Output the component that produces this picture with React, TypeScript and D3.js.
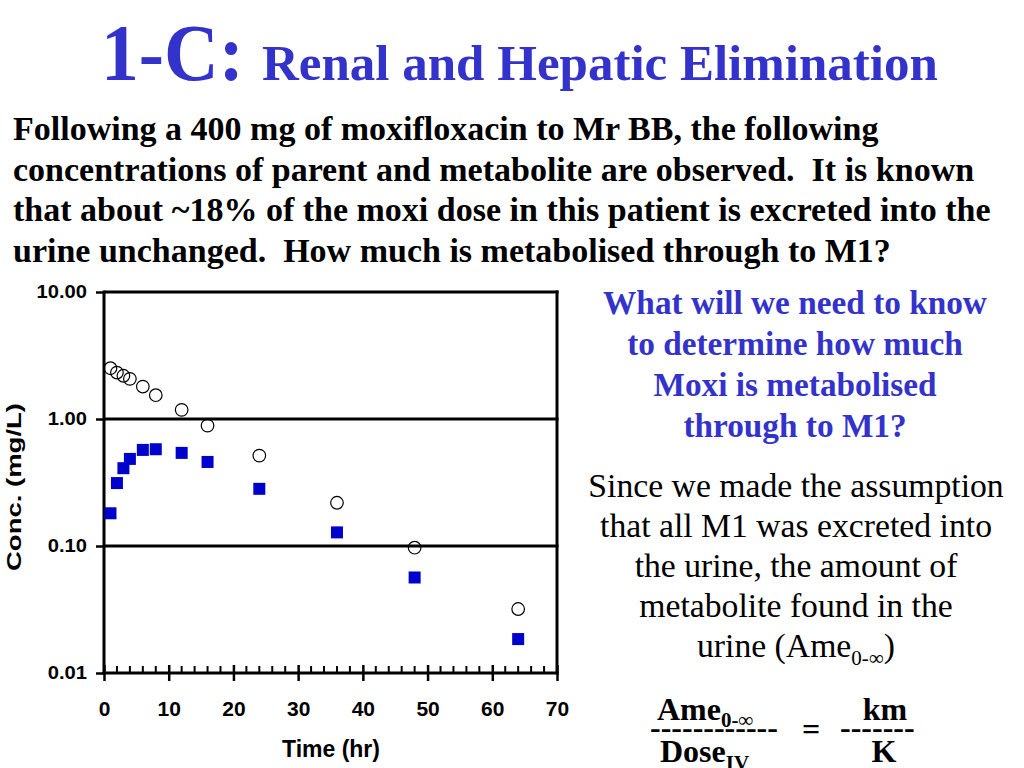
import React, { useEffect, useRef } from 'react';
import * as d3 from 'd3';

// ---- data ----
const times = [1, 2, 3, 4, 6, 8, 12, 16, 24, 36, 48, 64];
const parentConc = [2.51, 2.32, 2.19, 2.07, 1.8, 1.54, 1.18, 0.887, 0.515, 0.219, 0.097, 0.0319];
const metaboliteConc = [0.181, 0.313, 0.41, 0.485, 0.571, 0.578, 0.541, 0.459, 0.282, 0.128, 0.0565, 0.0185];
const yTickValues = [0.01, 0.1, 1, 10];
const yTickLabels = ['0.01', '0.10', '1.00', '10.00'];
const xMajorTicks = [0, 10, 20, 30, 40, 50, 60, 70];
const xMinorTicks = [2, 4, 6, 8, 12, 14, 16, 18, 22, 24, 26, 28, 32, 34, 36, 38, 42, 44, 46, 48, 52, 54, 56, 58, 62, 64, 66, 68];
const gridValues = [0.1, 1, 10];

const titleMain = '1-C:';
const titleSub = 'Renal and Hepatic Elimination';
const paragraph = [
  'Following a 400 mg of moxifloxacin to Mr BB, the following',
  'concentrations of parent and metabolite are observed.  It is known',
  'that about ~18% of the moxi dose in this patient is excreted into the',
  'urine unchanged.  How much is metabolised through to M1?',
];
const blueLines = ['What will we need to know', 'to determine how much', 'Moxi is metabolised', 'through to M1?'];
const blackLines = ['Since we made the assumption', 'that all M1 was excreted into', 'the urine, the amount of', 'metabolite found in the'];

const SERIF = '"Liberation Serif", "Times New Roman", serif';
const SANS = '"Liberation Sans", Arial, sans-serif';
const BLUE = '#3333CC';

const X0 = 104, X1 = 557, Y0 = 673, Y1 = 292;

export default function App() {
  const xAxisRef = useRef<SVGGElement>(null);
  const yAxisRef = useRef<SVGGElement>(null);

  const x = d3.scaleLinear().domain([0, 70]).range([X0, X1]);
  const y = d3.scaleLog().domain([0.01, 10]).range([Y0, Y1]);

  useEffect(() => {
    if (xAxisRef.current) {
      const g = d3.select(xAxisRef.current);
      g.selectAll('*').remove();
      g.call(
        d3.axisBottom(x).tickValues(xMajorTicks).tickFormat(d3.format('d')).tickSizeInner(8).tickSizeOuter(0).tickPadding(20)
      );
      g.select('.domain').attr('stroke', '#000').attr('stroke-width', 3).attr('d', `M${X0 - 1.5},0H${X1 + 1.5}`);
      g.selectAll('.tick line').attr('stroke', '#000').attr('stroke-width', 2.5).attr('y1', -8);
      g.selectAll('.tick text')
        .attr('font-family', SANS)
        .attr('font-weight', 'bold')
        .attr('font-size', 21)
        .attr('fill', '#000');
      g.selectAll('.minor')
        .data(xMinorTicks)
        .enter()
        .append('line')
        .attr('class', 'minor')
        .attr('x1', (d) => x(d))
        .attr('x2', (d) => x(d))
        .attr('y1', 0)
        .attr('y2', -7)
        .attr('stroke', '#000')
        .attr('stroke-width', 2);
      g.attr('font-family', SANS);
    }
    if (yAxisRef.current) {
      const g = d3.select(yAxisRef.current);
      g.selectAll('*').remove();
      g.call(
        d3
          .axisLeft(y)
          .tickValues(yTickValues)
          .tickFormat((_d, i) => yTickLabels[i])
          .tickSizeInner(8)
          .tickSizeOuter(0)
          .tickPadding(9)
      );
      g.select('.domain').attr('stroke', '#000').attr('stroke-width', 3).attr('d', `M0,${Y0 + 1.5}V${Y1 - 1.5}`);
      g.selectAll('.tick line').attr('stroke', '#000').attr('stroke-width', 2.5);
      g.selectAll('.tick text')
        .attr('font-family', SANS)
        .attr('font-weight', 'bold')
        .attr('font-size', 18)
        .attr('fill', '#000')
        .each(function () {
          const t = this as SVGTextElement;
          const w = t.getComputedTextLength();
          t.setAttribute('textLength', String(w * 1.12));
          t.setAttribute('lengthAdjust', 'spacingAndGlyphs');
        });
    }
  }, []);

  return (
    <div style={{ position: 'absolute', left: 0, top: 0 }}>
      <svg width={1024} height={768} style={{ display: 'block', background: '#fff' }}>
        {/* Title */}
        <text
          x={101}
          y={80}
          fontFamily={SERIF}
          fontSize={81}
          fontWeight="bold"
          fill={BLUE}
          textLength={143}
          lengthAdjust="spacingAndGlyphs"
        >
          {titleMain}
        </text>
        <text x={262} y={80} fontFamily={SERIF} fontSize={51} fontWeight="bold" fill={BLUE}>
          {titleSub}
        </text>

        {/* Paragraph */}
        {paragraph.map((line, i) => (
          <text
            key={i}
            x={13}
            y={140 + i * 40.7}
            fontFamily={SERIF}
            fontSize={34}
            fontWeight="bold"
            fill="#000"
            style={{ whiteSpace: 'pre' }}
          >
            {line}
          </text>
        ))}

        {/* Right blue question */}
        {blueLines.map((line, i) => (
          <text
            key={i}
            x={795}
            y={314 + i * 41}
            textAnchor="middle"
            fontFamily={SERIF}
            fontSize={33.3}
            fontWeight="bold"
            fill={BLUE}
          >
            {line}
          </text>
        ))}

        {/* Right black explanation */}
        {blackLines.map((line, i) => (
          <text key={i} x={796} y={497 + i * 40} textAnchor="middle" fontFamily={SERIF} fontSize={33.7} fill="#000">
            {line}
          </text>
        ))}
        <text x={796} y={657} textAnchor="middle" fontFamily={SERIF} fontSize={33.7} fill="#000">
          urine (Ame
          <tspan fontSize={21} dy={8}>
            0-∞
          </tspan>
          <tspan dy={-8}>)</tspan>
        </text>

        {/* Formula */}
        <text x={650} y={738} fontFamily={SERIF} fontSize={32} fontWeight="bold" fill="#000">
          ------------
        </text>
        <text x={657} y={720} fontFamily={SERIF} fontSize={32} fontWeight="bold" fill="#000">
          Ame
          <tspan fontSize={21} dy={7}>
            0-∞
          </tspan>
        </text>
        <text x={660} y={762} fontFamily={SERIF} fontSize={32} fontWeight="bold" fill="#000">
          Dose
          <tspan fontSize={21} dy={8}>
            IV
          </tspan>
        </text>
        <text x={811} y={740} textAnchor="middle" fontFamily={SERIF} fontSize={32} fontWeight="bold" fill="#000">
          =
        </text>
        <text x={840} y={738} fontFamily={SERIF} fontSize={32} fontWeight="bold" fill="#000">
          -------
        </text>
        <text x={885} y={720} textAnchor="middle" fontFamily={SERIF} fontSize={32} fontWeight="bold" fill="#000">
          km
        </text>
        <text x={884} y={762} textAnchor="middle" fontFamily={SERIF} fontSize={32} fontWeight="bold" fill="#000">
          K
        </text>

        {/* Chart frame / gridlines */}
        {gridValues.map((v) => (
          <line key={v} x1={X0} x2={X1 + 1.5} y1={y(v)} y2={y(v)} stroke="#000" strokeWidth={3} />
        ))}
        <line x1={X1} x2={X1} y1={Y1 - 1.5} y2={Y0 + 1.5} stroke="#000" strokeWidth={3} />

        {/* Axes */}
        <g ref={xAxisRef} transform={`translate(0,${Y0})`} />
        <g ref={yAxisRef} transform={`translate(${X0},0)`} />

        {/* Parent (open circles) */}
        {times.map((t, i) => (
          <circle key={'p' + i} cx={x(t)} cy={y(parentConc[i])} r={6.3} fill="none" stroke="#000" strokeWidth={1.2} />
        ))}
        {/* Metabolite (blue squares) */}
        {times.map((t, i) => (
          <rect key={'m' + i} x={x(t) - 6} y={y(metaboliteConc[i]) - 6} width={12} height={12} fill="#0000CC" />
        ))}

        {/* Axis titles */}
        <text x={331} y={757} textAnchor="middle" fontFamily={SANS} fontSize={23} fontWeight="bold" fill="#000">
          Time (hr)
        </text>
        <text
          transform={`translate(21,487) rotate(-90)`}
          textAnchor="middle"
          fontFamily={SANS}
          fontSize={20}
          fontWeight="bold"
          fill="#000"
          textLength={168}
          lengthAdjust="spacingAndGlyphs"
        >
          Conc. (mg/L)
        </text>
      </svg>
    </div>
  );
}
